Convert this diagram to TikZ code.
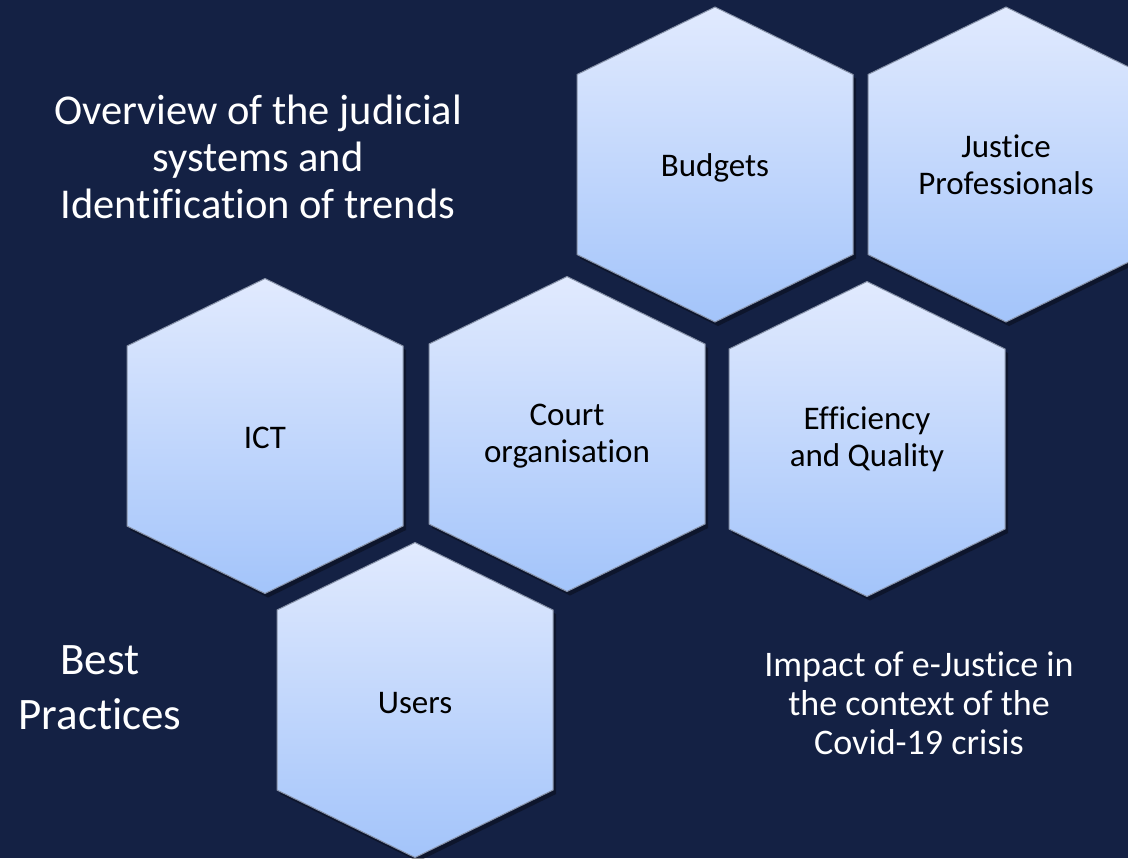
\documentclass[tikz,border=0pt]{standalone}
\usepackage{fontspec}
\setmainfont{Carlito}[Ligatures=NoCommon]
\definecolor{bgnavy}{RGB}{20,33,68}
\definecolor{hextop}{RGB}{225,234,254}
\definecolor{hexbot}{RGB}{163,196,250}
\definecolor{hexedge}{RGB}{135,146,168}
\tikzset{
  hexfill/.style={top color=hextop, bottom color=hexbot, draw=hexedge, line width=0.5pt},
  hexshadow/.style={fill=black, opacity=0.35},
  hextext/.style={font=\fontsize{16.5}{18.3}\selectfont, align=center, inner sep=0pt, text=black},
  outtext/.style={align=center, inner sep=0pt, text=white}
}
\begin{document}
\begin{tikzpicture}[x=0.5pt,y=-0.5pt]
\useasboundingbox (0,0) rectangle (1128,858);
\fill[bgnavy] (0,0) rectangle (1128,858);
\begin{scope}
\clip (0,0) rectangle (1128,858);
\foreach \cx/\cy in {715/164.5, 1006/164.5, 265/436, 567/434, 867/439, 415/700} {
  \fill[hexshadow] ({\cx+3},{\cy-157.5+4}) -- ({\cx+138+3},{\cy-90+4}) -- ({\cx+138+3},{\cy+90+4}) -- ({\cx+3},{\cy+157.5+4}) -- ({\cx-138+3},{\cy+90+4}) -- ({\cx-138+3},{\cy-90+4}) -- cycle;
  \shade[hexfill] ({\cx},{\cy-157.5}) -- ({\cx+138},{\cy-90}) -- ({\cx+138},{\cy+90}) -- ({\cx},{\cy+157.5}) -- ({\cx-138},{\cy+90}) -- ({\cx-138},{\cy-90}) -- cycle;
}
\end{scope}
\node[hextext] (budgets) at (715,168) {Budgets};
\node[hextext] (justice) at (1006,165) {Justice\\Professionals};
\node[hextext] (ict) at (265,438) {ICT};
\node[hextext] (court) at (567,436) {Court\\organisation};
\node[hextext] (efficiency) at (867,439) {Efficiency\\and Quality};
\node[hextext] (users) at (415,703) {Users};
\node[outtext, font=\fontsize{21.25}{23.5}\selectfont] (overview) at (258,157) {Overview of the judicial\\systems and\\Identification of trends};
\node[outtext, font=\fontsize{22.5}{27.5}\selectfont] (best) at (100,688) {Best\\Practices};
\node[outtext, font=\fontsize{18}{19.5}\selectfont] (impact) at (919,703) {Impact of e-Justice in\\the context of the\\Covid-19 crisis};
\end{tikzpicture}
\end{document}
